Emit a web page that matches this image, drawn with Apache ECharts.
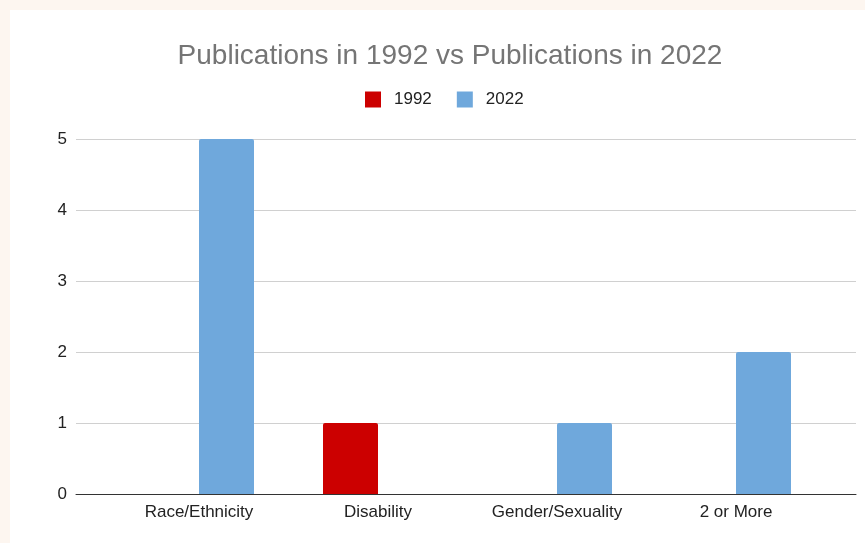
<!DOCTYPE html>
<html>
<head>
<meta charset="utf-8">
<script src="https://cdn.jsdelivr.net/npm/echarts@6/dist/echarts.min.js"></script>
<style>
  html, body { margin: 0; padding: 0; background: #fdf6f0; }
  #panel { position: absolute; left: 10px; top: 10px; width: 855px; height: 533px; background: #ffffff; }
  #chart { position: absolute; left: 0; top: 0; width: 865px; height: 543px; }
</style>
</head>
<body>
<div id="panel"></div>
<div id="chart"></div>
<script>
// Publication counts per category
const categories = ['Race/Ethnicity', 'Disability', 'Gender/Sexuality', '2 or More'];
const pubs1992 = [0, 1, 0, 0];
const pubs2022 = [5, 0, 1, 2];
const yTicks = [0, 1, 2, 3, 4, 5];

const FONT = '"Liberation Sans", Arial, sans-serif';
const chart = echarts.init(document.getElementById('chart'), null, { renderer: 'canvas' });

chart.setOption({
  backgroundColor: 'transparent',
  animation: false,
  title: {
    text: 'Publications in 1992 vs Publications in 2022',
    left: 445, top: 37, textAlign: 'center',
    textStyle: { color: '#757575', fontFamily: FONT, fontSize: 28, fontWeight: 'normal' }
  },
  legend: {
    data: ['1992', '2022'],
    left: 360, top: 86,
    itemWidth: 16, itemHeight: 16, itemGap: 25,
    icon: 'rect',
    itemStyle: { borderRadius: 2 },
    textStyle: { color: '#222', fontFamily: FONT, fontSize: 17, padding: [0, 0, 0, 8] }
  },
  grid: [
    // full-width grid carrying the gridlines and baseline
    { left: 76, right: 9, top: 139, bottom: 49 },
    // inner grid where the category bands sit
    { left: 109.5, right: 39.5, top: 139, bottom: 49 }
  ],
  xAxis: [
    {
      gridIndex: 0, type: 'category', data: [''],
      axisLine: { show: true, lineStyle: { color: '#333', width: 1 } },
      axisTick: { show: false }, axisLabel: { show: false }
    },
    {
      gridIndex: 1, type: 'category', data: categories,
      axisLine: { show: false }, axisTick: { show: false },
      axisLabel: { color: '#222', fontFamily: FONT, fontSize: 17, margin: 10 }
    }
  ],
  yAxis: [
    {
      gridIndex: 0, type: 'value', min: yTicks[0], max: yTicks[yTicks.length - 1], interval: 1,
      axisLine: { show: false }, axisTick: { show: false },
      axisLabel: { color: '#222', fontFamily: FONT, fontSize: 17, margin: 9 },
      splitLine: { lineStyle: { color: '#d0d0d0', width: 1 } }
    },
    {
      gridIndex: 1, type: 'value', min: yTicks[0], max: yTicks[yTicks.length - 1], interval: 1,
      show: false, splitLine: { show: false }
    }
  ],
  series: [
    {
      name: '1992', type: 'bar', xAxisIndex: 1, yAxisIndex: 1,
      data: pubs1992, barWidth: 55, barGap: '0%',
      itemStyle: { color: '#cc0000', borderRadius: [2, 2, 0, 0] }
    },
    {
      name: '2022', type: 'bar', xAxisIndex: 1, yAxisIndex: 1,
      data: pubs2022, barWidth: 55, barGap: '0%',
      itemStyle: { color: '#6fa8dc', borderRadius: [2, 2, 0, 0] }
    }
  ]
});
</script>
</body>
</html>
